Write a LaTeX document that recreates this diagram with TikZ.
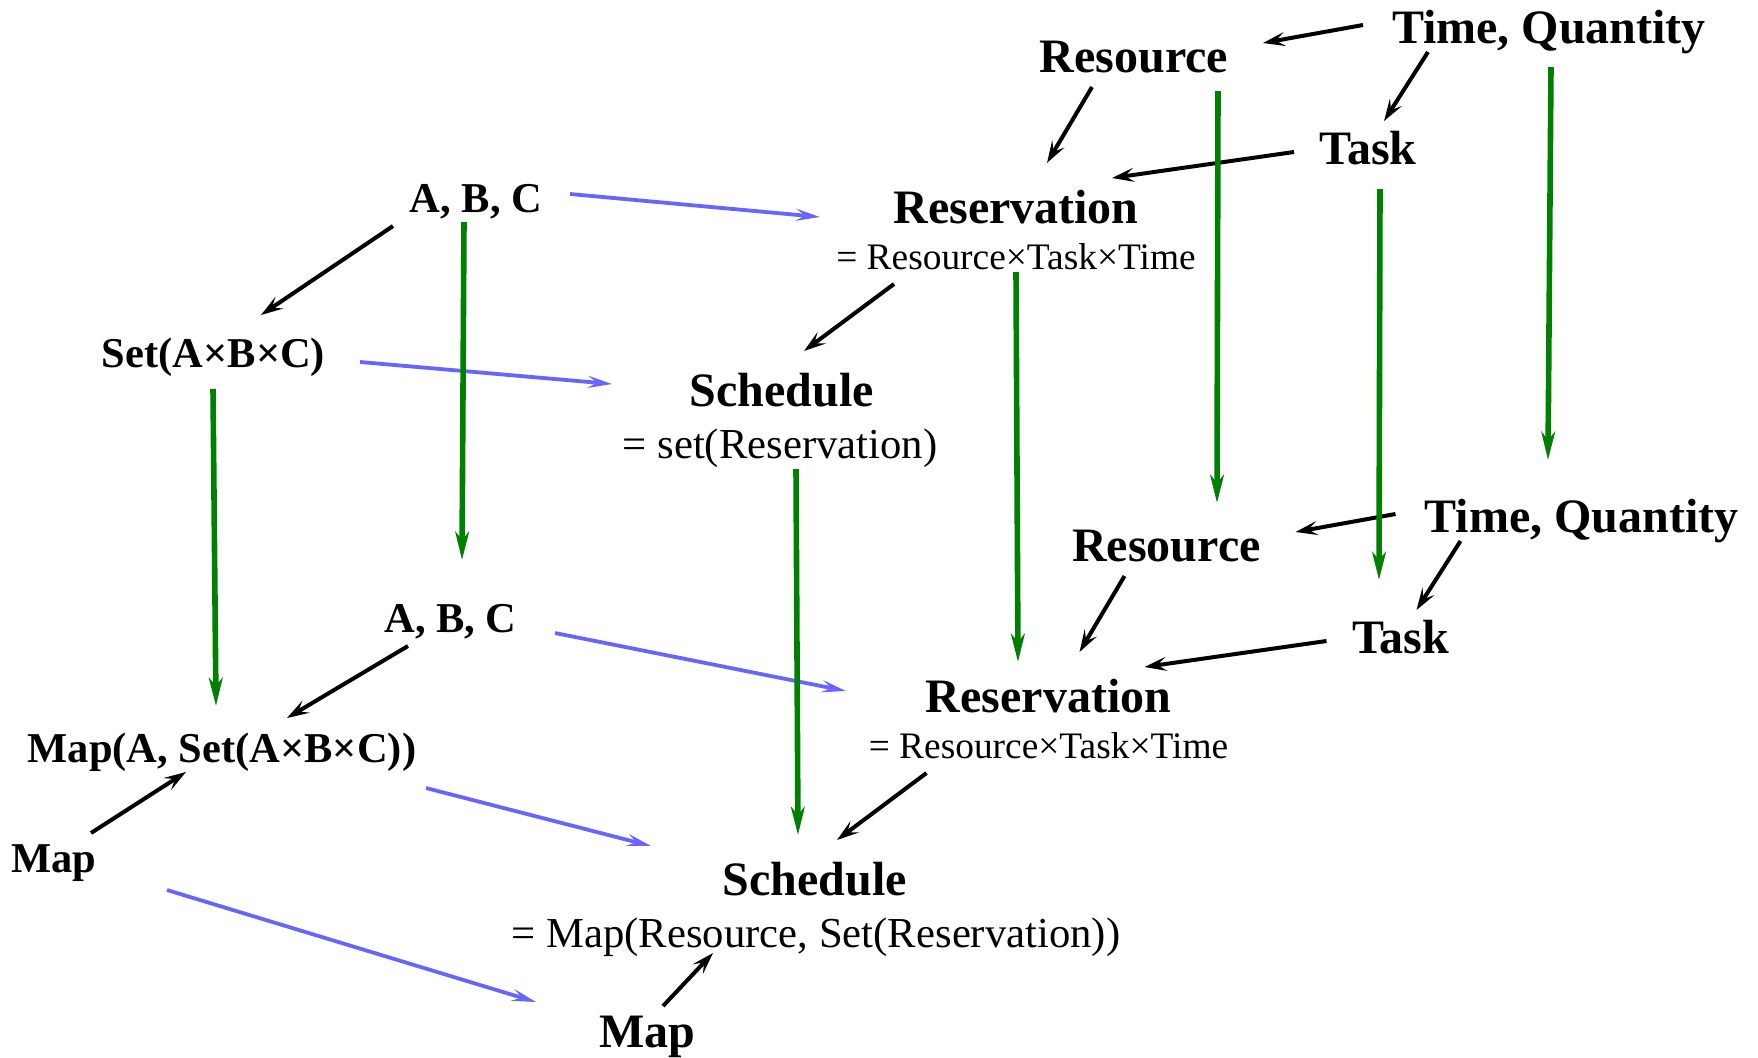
\documentclass[tikz,border=0pt]{standalone}
\usepackage{fontspec}
\setmainfont{Liberation Serif}
\usetikzlibrary{arrows.meta}
\definecolor{depgreen}{RGB}{0,128,0}
\definecolor{mapblue}{RGB}{102,102,255}
\begin{document}
\begin{tikzpicture}[x=0.5pt,y=-0.5pt,
  typeR/.style={font=\fontsize{24pt}{28pt}\selectfont\bfseries, inner sep=0pt, anchor=base},
  typeL/.style={font=\fontsize{21.25pt}{25pt}\selectfont\bfseries, inner sep=0pt, anchor=base},
  defR/.style={font=\fontsize{18.7pt}{22pt}\selectfont, inner sep=0pt, anchor=base},
  defS/.style={font=\fontsize{21.35pt}{25pt}\selectfont, inner sep=0pt, anchor=base},
  uses/.style={draw=black, line width=2pt, -{Stealth[length=11pt,width=7pt,inset=4.5pt]}},
  lift/.style={draw=mapblue, line width=1.9pt, -{Stealth[length=12pt,width=6pt,inset=4.5pt]}},
  impl/.style={draw=depgreen, line width=2.8pt, -{Stealth[length=14pt,width=6.8pt,inset=4pt]}},
]
\useasboundingbox (0,0) rectangle (1758,1057);

% ---- upper right: single reservation level
\node[typeR] (tq1)   at (1549,43)  {Time, Quantity};
\node[typeR] (res1)  at (1134,72)  {Resource};
\node[typeR] (task1) at (1368,164) {Task};
\node[typeR] (rsv1)  at (1016,223) {Reservation};
\node[defR]  (rsv1s) at (1016,269) {= Resource×Task×Time};
\node[typeR] (sch1)  at (782,406)  {Schedule};
\node[defS]  (sch1s) at (780,458)  {= set(Reservation)};

% ---- lower right: mapped level
\node[typeR] (tq2)   at (1581.5,532) {Time, Quantity};
\node[typeR] (res2)  at (1166.5,561) {Resource};
\node[typeR] (task2) at (1400.5,653) {Task};
\node[typeR] (rsv2)  at (1048.5,712) {Reservation};
\node[defR]  (rsv2s) at (1048.5,758) {= Resource×Task×Time};
\node[typeR] (sch2)  at (815,895)    {Schedule};
\node[defS]  (sch2s) at (816,947)    {= Map(Resource, Set(Reservation))};
\node[typeR] (map2)  at (647,1047)   {Map};

% ---- left: generic types
\node[typeL] (abc1)   at (476,212)   {A, B, C};
\node[typeL] (set1)   at (213.5,367) {Set(A×B×C)};
\node[typeL] (abc2)   at (450.5,632) {A, B, C};
\node[typeL] (mapset) at (222,762)   {Map(A, Set(A×B×C))};
\node[typeL] (map1)   at (53.5,872)  {Map};

% ---- composition arrows (black)
\draw[uses] ([shift={(-186,-18)}]tq1.base) -- ([shift={(129,-29)}]res1.base);
\draw[uses] ([shift={(-121,9)}]tq1.base)   -- ([shift={(16,-43)}]task1.base);
\draw[uses] ([shift={(-42,15)}]res1.base)  -- ([shift={(31,-60)}]rsv1.base);
\draw[uses] ([shift={(-74,-12)}]task1.base) -- ([shift={(96,-45)}]rsv1.base);
\draw[uses] ([shift={(-122,15)}]rsv1s.base) -- ([shift={(22,-55)}]sch1.base);

\draw[uses] ([shift={(-186,-18)}]tq2.base) -- ([shift={(129,-29)}]res2.base);
\draw[uses] ([shift={(-121,9)}]tq2.base)   -- ([shift={(16,-43)}]task2.base);
\draw[uses] ([shift={(-42,15)}]res2.base)  -- ([shift={(31,-60)}]rsv2.base);
\draw[uses] ([shift={(-74,-12)}]task2.base) -- ([shift={(96,-45)}]rsv2.base);
\draw[uses] ([shift={(-122,15)}]rsv2s.base) -- ([shift={(22,-55)}]sch2.base);

\draw[uses] ([shift={(-83,14)}]abc1.base)   -- ([shift={(47.5,-52)}]set1.base);
\draw[uses] ([shift={(-42.5,14)}]abc2.base) -- ([shift={(65,-44)}]mapset.base);
\draw[uses] ([shift={(37.5,-39)}]map1.base) -- ([shift={(-36,10)}]mapset.base);
\draw[uses] ([shift={(16,-41)}]map2.base)   -- ([shift={(-103,6)}]sch2s.base);

% ---- instantiation arrows (blue)
\draw[lift] ([shift={(94,-18)}]abc1.base)    -- ([shift={(-196,-6)}]rsv1.base);
\draw[lift] ([shift={(146.5,-5)}]set1.base)  -- ([shift={(-170,-22)}]sch1.base);
\draw[lift] ([shift={(104.5,1)}]abc2.base)   -- ([shift={(-202.5,-21)}]rsv2.base);
\draw[lift] ([shift={(204,26)}]mapset.base)  -- ([shift={(-164,-49)}]sch2.base);
\draw[lift] ([shift={(113.5,18)}]map1.base)  -- ([shift={(-111,-45)}]map2.base);

% ---- level arrows (green)
\draw[impl] ([shift={(-12,10)}]abc1.base)  -- ([shift={(11.5,-72)}]abc2.base);
\draw[impl] ([shift={(-0.5,22)}]set1.base) -- ([shift={(-6,-56)}]mapset.base);
\draw[impl] ([shift={(16,11)}]sch1s.base)  -- ([shift={(-17,-60)}]sch2.base);
\draw[impl] ([shift={(0,3)}]rsv1s.base)    -- ([shift={(-30.5,-50)}]rsv2.base);
\draw[impl] ([shift={(84,19)}]res1.base)   -- ([shift={(50.5,-58)}]res2.base);
\draw[impl] ([shift={(12,25)}]task1.base)  -- ([shift={(-21.5,-73)}]task2.base);
\draw[impl] ([shift={(2,24)}]tq1.base)     -- ([shift={(-33.5,-72)}]tq2.base);
\end{tikzpicture}
\end{document}
